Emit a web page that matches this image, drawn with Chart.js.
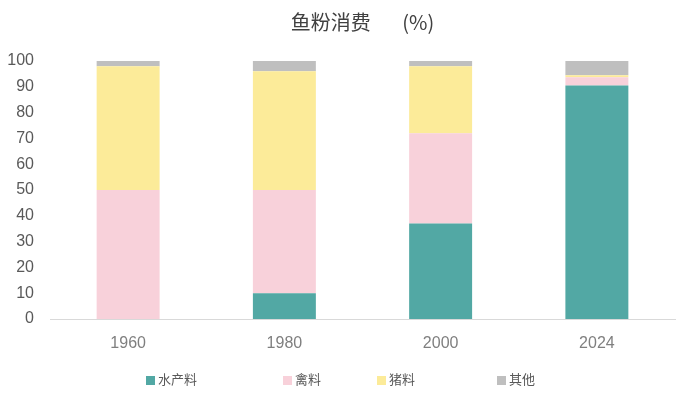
<!DOCTYPE html>
<html>
<head>
<meta charset="utf-8">
<script src="https://cdn.jsdelivr.net/npm/chart.js@4"></script>
<style>
  html, body { margin: 0; padding: 0; background: #fff; }
  #wrap { position: relative; width: 680px; height: 397px; }
  #legend { position: absolute; left: 0; top: 370px; width: 680px; height: 20px;
    font-family: "Noto Sans CJK SC", sans-serif; font-size: 13px; color: #595959; }
  .item { position: absolute; top: 0; line-height: 18px; white-space: nowrap; }
  .box { display: inline-block; width: 9px; height: 9px; margin-right: 3px; vertical-align: -1px; }
</style>
</head>
<body>
<div id="wrap">
  <canvas id="fishmeal" width="680" height="397"></canvas>
  <div id="legend"></div>
</div>
<script>
// 鱼粉消费结构 (%)
const years = ['1960', '1980', '2000', '2024'];
const seriesNames = ['水产料', '禽料', '猪料', '其他'];
const aquaFeed = [0, 10, 37, 90.5];
const poultryFeed = [50, 40, 35, 3.2];
const pigFeed = [48, 46, 26, 0.8];
const others = [2, 4, 2, 5.5];
const yTicks = [0, 10, 20, 30, 40, 50, 60, 70, 80, 90, 100];

const colors = ['#52A8A4', '#F8D1DA', '#FCEB99', '#BFBFBF'];
const legendLeft = [146, 283, 377, 497];

const allSeries = [aquaFeed, poultryFeed, pigFeed, others];

const createFishmealChart = () => {
    const ctx = document.getElementById('fishmeal').getContext('2d');
    new Chart(ctx, {
        type: 'bar',
        data: {
            labels: years,
            datasets: allSeries.map((vals, i) => ({
                label: seriesNames[i],
                data: vals,
                backgroundColor: colors[i],
                borderWidth: 0,
                categoryPercentage: 1,
                barPercentage: 0.403
            }))
        },
        options: {
            responsive: false,
            animation: false,
            layout: { padding: { left: 0, right: 5, top: 0, bottom: 0 } },
            plugins: {
                legend: { display: false },
                tooltip: { enabled: false },
                title: {
                    display: true,
                    fullSize: false,
                    text: '鱼粉消费       (%)',
                    color: '#404040',
                    font: { family: '"Noto Sans CJK SC"', size: 20, weight: 'normal' },
                    padding: { top: 10, bottom: 27 }
                }
            },
            scales: {
                x: {
                    stacked: true,
                    grid: { display: false },
                    border: { display: true, color: '#D9D9D9', width: 1 },
                    ticks: {
                        color: '#7F7F7F',
                        padding: 7,
                        font: { family: '"Liberation Sans", Arial', size: 16 }
                    },
                    afterFit: (s) => { s.height = 78; }
                },
                y: {
                    stacked: true,
                    min: 0,
                    max: 100,
                    afterBuildTicks: (s) => { s.ticks = yTicks.map(v => ({ value: v })); },
                    grid: { display: false, drawTicks: false },
                    border: { display: false },
                    ticks: {
                        color: '#595959',
                        padding: 16,
                        font: { family: '"Liberation Sans", Arial', size: 16 }
                    },
                    afterFit: (s) => { s.width = 50; }
                }
            }
        }
    });
};

const createLegend = () => {
    const legend = document.getElementById('legend');
    seriesNames.forEach((name, i) => {
        const item = document.createElement('div');
        item.className = 'item';
        item.style.left = legendLeft[i] + 'px';
        item.innerHTML = '<span class="box" style="background:' + colors[i] + '"></span>' + name;
        legend.appendChild(item);
    });
};

createFishmealChart();
createLegend();
</script>
</body>
</html>
